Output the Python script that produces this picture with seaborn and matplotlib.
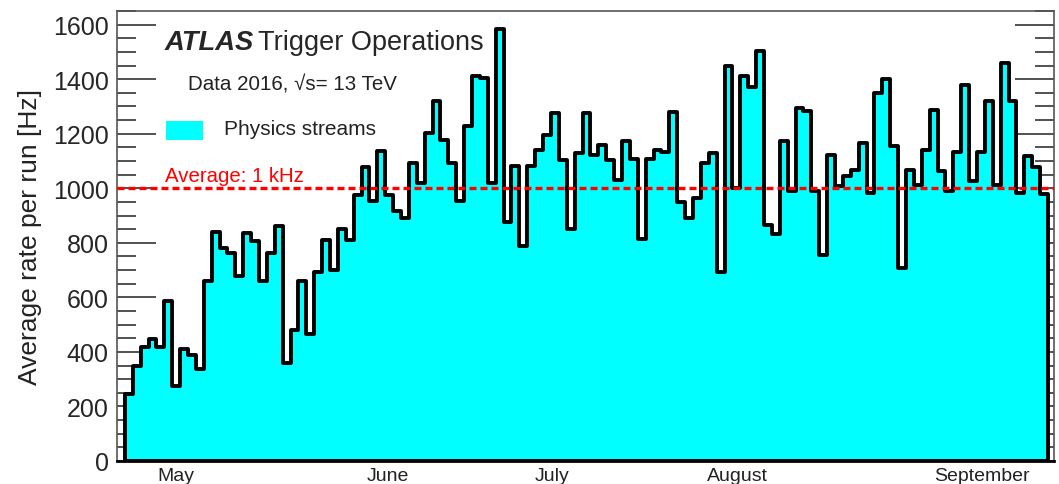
import numpy as np
import pandas as pd
import matplotlib
matplotlib.use('Agg')
import matplotlib.pyplot as plt
from matplotlib.patches import Rectangle
from matplotlib.ticker import MultipleLocator
import seaborn as sns

# average physics-stream rate per run [Hz], one value per run
rates = [244, 348, 419, 446, 419, 588, 275, 411, 387, 338,
         659, 840, 781, 763, 678, 836, 806, 659, 763, 861,
         360, 482, 659, 464, 692, 810, 700, 851, 812, 975,
         1077, 952, 1135, 977, 916, 891, 1093, 1020, 1203, 1319,
         1178, 1093, 952, 1227, 1410, 1404, 1020, 1585, 875, 1081,
         788, 1081, 1142, 1197, 1276, 1105, 849, 1129, 1276, 1123,
         1157, 1105, 1032, 1172, 1107, 814, 1107, 1142, 1132, 1280,
         949, 891, 965, 1093, 1129, 692, 1447, 1001, 1413, 1371,
         1502, 867, 833, 1172, 989, 1294, 1282, 989, 757, 1123,
         1007, 1044, 1068, 1166, 983, 1349, 1402, 1154, 708, 1068,
         1013, 1142, 1288, 1062, 989, 1132, 1377, 1028, 1132, 1321,
         1013, 1459, 1321, 983, 1117, 1077, 979]
months = ['May', 'June', 'July', 'August', 'September']
month_pos = [6.5, 33.3, 54.2, 77.6, 108.6]   # in run-index units
average = 1000

runs = np.arange(len(rates)) + 0.5
df = pd.DataFrame({'run': runs, 'rate': rates})

sns.set_style('ticks')
plt.rcParams['font.family'] = ['Liberation Sans', 'DejaVu Sans']

fig = plt.figure(figsize=(10.59, 4.85), dpi=100)
ax = fig.add_axes([117/1059, 1-462/485, 937/1059, 450/485])

sns.histplot(data=df, x='run', weights='rate', bins=len(rates),
             binrange=(0, len(rates)), element='step', fill=True,
             color='#00FFFF', alpha=1, edgecolor='black', linewidth=2.8, ax=ax)
ax.axhline(average, color='#FF0000', lw=2.4, ls=(0, (2.1, 1.2)), zorder=5)

ax.set_xlim(-1.0, len(rates) + 0.76)
ax.set_ylim(0, 1650)
ax.yaxis.set_major_locator(MultipleLocator(200))
ax.yaxis.set_minor_locator(MultipleLocator(50))
ax.set_xticks(month_pos)
ax.set_xticklabels(months, fontsize=14, color='#222222')
ax.tick_params(axis='x', length=0, pad=4)
ax.tick_params(axis='y', which='major', direction='in', length=28, width=1.2,
               left=True, right=True, labelsize=18, color='#333333', pad=6)
ax.tick_params(axis='y', which='minor', direction='in', length=14, width=1.2,
               left=True, right=True, color='#333333')
ax.set_xlabel('')
ax.set_ylabel('Average rate per run [Hz]', fontsize=19, color='#222222', labelpad=8)
for s in ['top', 'right', 'left']:
    ax.spines[s].set_color('#555555')
    ax.spines[s].set_linewidth(1.2)
ax.spines['bottom'].set_color('black')
ax.spines['bottom'].set_linewidth(2)

# annotations
fig.text(165/1059, 1-43/485, 'ATLAS', fontsize=19.7, fontweight='bold',
         fontstyle='italic', va='center', ha='left')
fig.text(258/1059, 1-43/485, 'Trigger Operations', fontsize=19.5,
         va='center', ha='left')
fig.text(188/1059, 1-85/485, 'Data 2016, \u221as= 13 TeV', fontsize=14.8,
         va='center', ha='left', color='#222222')
fig.patches.append(Rectangle((166/1059, 1-141/485), 37/1059, 19/485,
                             transform=fig.transFigure, facecolor='#00FFFF',
                             edgecolor='none'))
fig.text(224/1059, 1-130/485, 'Physics streams', fontsize=15,
         va='center', ha='left', color='#222222')
fig.text(165/1059, 1-177/485, 'Average: 1 kHz', fontsize=14.7,
         va='center', ha='left', color='#FF0000')

fig.savefig('out.png', dpi=100)
